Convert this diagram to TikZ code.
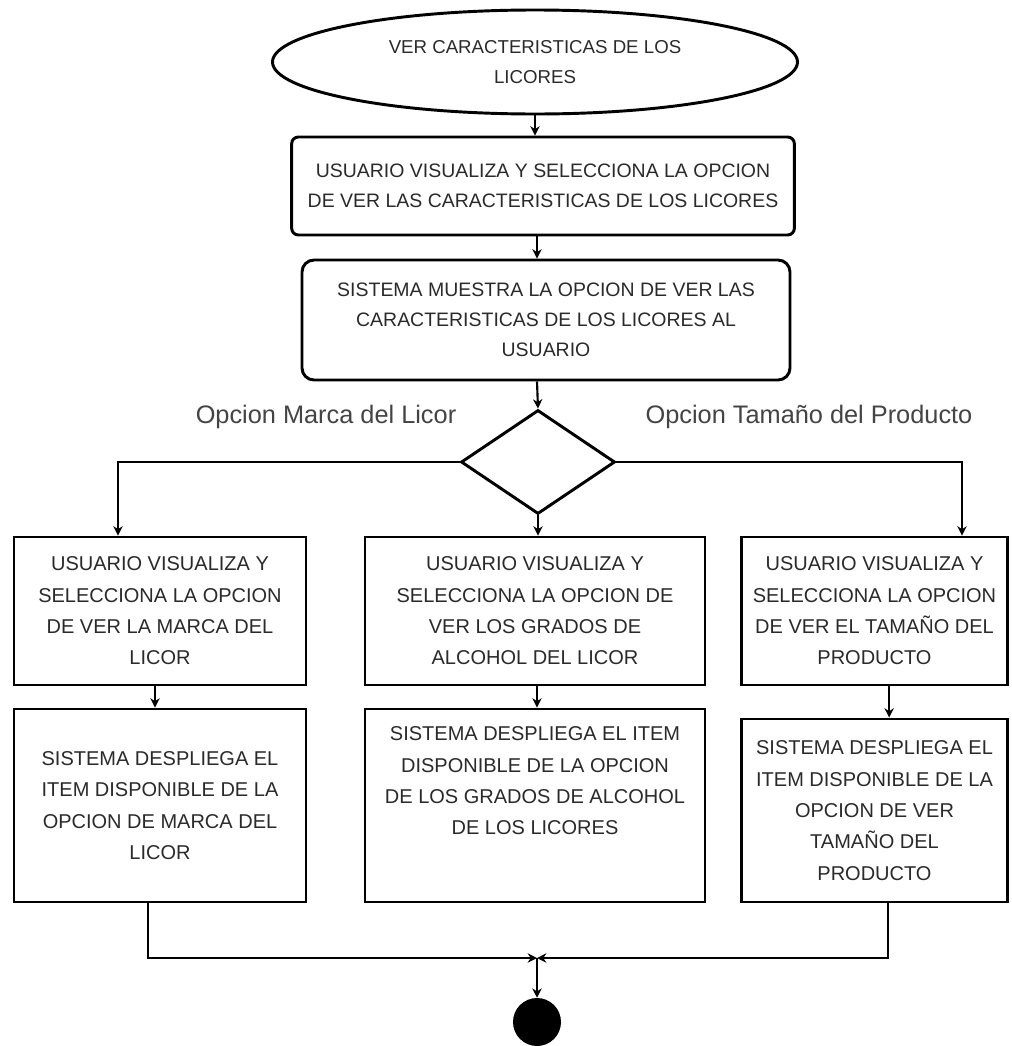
\documentclass[tikz,border=0pt]{standalone}
\usepackage{fontspec}
\setmainfont{Liberation Sans}
\usetikzlibrary{shapes.geometric,arrows.meta}
\definecolor{txt}{HTML}{2A2A2A}
\definecolor{lbl}{HTML}{444444}
\tikzset{
  box/.style={draw=black, line width=2.2pt, align=center, text=txt, inner sep=0pt},
  topfont/.style={font={\fontsize{14.6}{22.5}\selectfont}},
  lowfont/.style={font={\fontsize{15}{23.5}\selectfont}},
  conn/.style={draw=black, line width=1.6pt},
  arr/.style={conn, -{Stealth[length=7pt,width=7pt]}},
  optlabel/.style={text=lbl, font={\fontsize{19}{23}\selectfont}, inner sep=0pt}
}
\begin{document}
\begin{tikzpicture}[x=0.75pt,y=-0.75pt]
\useasboundingbox[fill=white] (0,0) rectangle (1012,1046);

% start ellipse
\node[box, ellipse, minimum width=393.75pt, minimum height=78pt,
      font={\fontsize{14}{23}\selectfont}] (start) at (535,62)
  {VER CARACTERISTICAS DE LOS\\LICORES};

\node[box, topfont, rounded corners=5pt, minimum width=377pt, minimum height=73.5pt] (b1) at (543,186)
  {USUARIO VISUALIZA Y SELECCIONA LA OPCION\\DE VER LAS CARACTERISTICAS DE LOS LICORES};

\node[box, topfont, rounded corners=9pt, minimum width=366pt, minimum height=90pt] (b2) at (546,320)
  {SISTEMA MUESTRA LA OPCION DE VER LAS\\CARACTERISTICAS DE LOS LICORES AL\\USUARIO};

\node[draw=black, line width=2.2pt, diamond, inner sep=0pt, minimum width=115.5pt, minimum height=78pt] (d) at (538,462) {};

\node[optlabel] (lblL) at (326,417) {Opcion Marca del Licor};
\node[optlabel] (lblR) at (809,417) {Opcion Tamaño del Producto};

% lower first row
\node[box, lowfont, minimum width=219pt, minimum height=111pt] (ua) at (160,611)
  {USUARIO VISUALIZA Y\\SELECCIONA LA OPCION\\DE VER LA MARCA DEL\\LICOR};
\node[box, lowfont, minimum width=255pt, minimum height=111pt] (ub) at (535,611)
  {USUARIO VISUALIZA Y\\SELECCIONA LA OPCION DE\\VER LOS GRADOS DE\\ALCOHOL DEL LICOR};
\node[box, lowfont, minimum width=200pt, minimum height=111pt] (uc) at (874.5,611)
  {USUARIO VISUALIZA Y\\SELECCIONA LA OPCION\\DE VER EL TAMAÑO DEL\\PRODUCTO};

% lower second row
\node[box, lowfont, minimum width=219pt, minimum height=144.75pt] (la) at (160,805.5)
  {SISTEMA DESPLIEGA EL\\ITEM DISPONIBLE DE LA\\OPCION DE MARCA DEL\\LICOR};
\node[box, minimum width=255pt, minimum height=144.75pt] (lb) at (535,805.5) {};
\node[lowfont, align=center, text=txt, inner sep=0pt] (lbt) at (535,781)
  {SISTEMA DESPLIEGA EL ITEM\\DISPONIBLE DE LA OPCION\\DE LOS GRADOS DE ALCOHOL\\DE LOS LICORES};
\node[box, lowfont, minimum width=200pt, minimum height=137.25pt] (lc) at (874.5,810.5)
  {SISTEMA DESPLIEGA EL\\ITEM DISPONIBLE DE LA\\OPCION DE VER\\TAMAÑO DEL\\PRODUCTO};

% end
\coordinate (m) at (537,958);
\node[circle, fill=black, inner sep=0pt, minimum size=36pt] (end) at (537,1022) {};

% connectors
\draw[arr] (start.south) -- (start.south |- b1.north);
\draw[arr] (b1.south -| 537,0) -- (b2.north -| 537,0);
\draw[arr] (b2.south -| 537,0) -- (d.north);
\coordinate (cl) at (118,462);
\coordinate (cr) at (962,462);
\draw[arr] (d.west) -- (cl) -- (cl |- ua.north);
\draw[arr] (d.east) -- (cr) -- (cr |- uc.north);
\draw[arr] (d.south) -- (d.south |- ub.north);
\draw[arr] ([xshift=-3.75pt]ua.south) -- ([xshift=-3.75pt]la.north);
\draw[arr] ([xshift=1.5pt]ub.south) -- ([xshift=1.5pt]lb.north);
\draw[arr] ([xshift=11pt]uc.south) -- ([xshift=11pt]lc.north);
\draw[arr] ([xshift=-9pt]la.south) |- (m);
\draw[arr] ([xshift=10pt]lc.south) |- (m);
\draw[arr] (m) -- (end.north);
\end{tikzpicture}
\end{document}
